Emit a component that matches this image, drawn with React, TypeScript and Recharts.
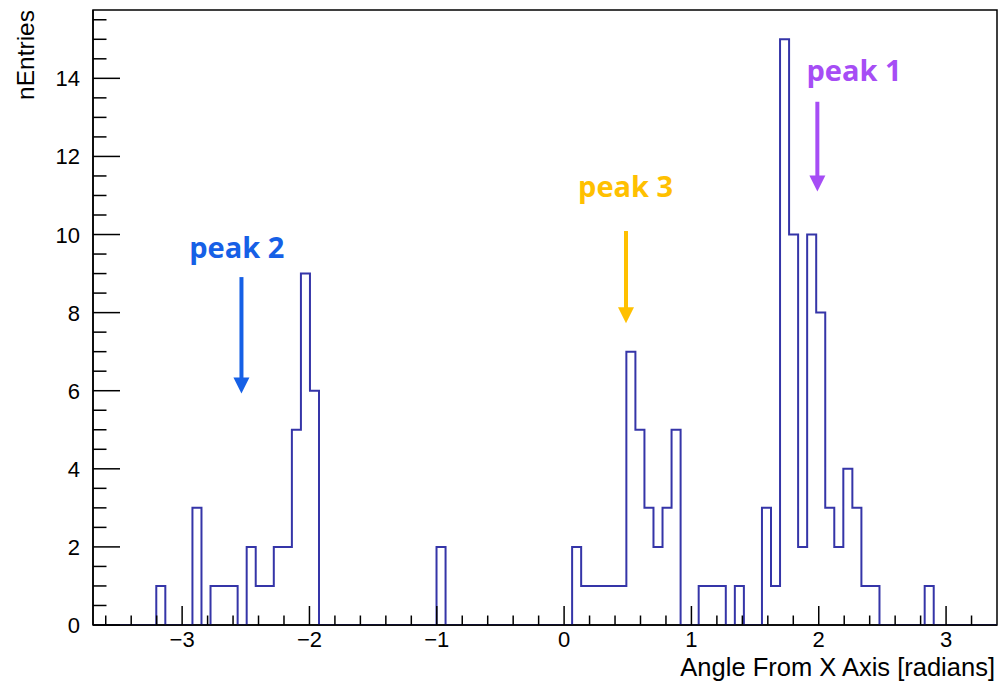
import React from 'react';
import {
  LineChart,
  Line,
  XAxis,
  YAxis,
  ReferenceArea,
  ReferenceLine,
  ReferenceDot,
} from 'recharts';

const X_MIN = -3.7;
const X_MAX = 3.4;
const Y_MAX = 15.75;

// entries per bin: 100 bins between X_MIN and X_MAX
const COUNTS = [
  0, 0, 0, 0, 0, 0, 0, 1, 0, 0,
  0, 3, 0, 1, 1, 1, 0, 2, 1, 1,
  2, 2, 5, 9, 6, 0, 0, 0, 0, 0,
  0, 0, 0, 0, 0, 0, 0, 0, 2, 0,
  0, 0, 0, 0, 0, 0, 0, 0, 0, 0,
  0, 0, 0, 2, 1, 1, 1, 1, 1, 7,
  5, 3, 2, 3, 5, 0, 0, 1, 1, 1,
  0, 1, 0, 0, 3, 1, 15, 10, 2, 10,
  8, 3, 2, 4, 3, 1, 1, 0, 0, 0,
  0, 0, 1, 0, 0, 0, 0, 0, 0, 0,
];

const X_LABELS = [-3, -2, -1, 0, 1, 2, 3];
const Y_LABELS = [0, 2, 4, 6, 8, 10, 12, 14];

const PEAK_NAMES = ['peak 1', 'peak 2', 'peak 3'];
const PEAK_COLORS = ['#a64df5', '#1660e6', '#ffc000'];
const PEAK_TEXT_X = [2.277, -2.571, 0.483];
const PEAK_TEXT_Y = [13.94, 9.39, 10.96];
const ARROW_X = [1.989, -2.534, 0.486];
const ARROW_TOP = [13.4, 8.91, 10.09];
const ARROW_TIP = [11.1, 5.93, 7.73];

// axis tick marks (minor every 0.2 on x, every 0.5 on y)
const X_TICKS = Array.from({ length: 35 }, (_, i) => Math.round((-3.6 + i * 0.2) * 10) / 10);
const Y_TICKS = Array.from({ length: 32 }, (_, i) => i * 0.5);

const BIN_W = (X_MAX - X_MIN) / COUNTS.length;
const steps = COUNTS.map((n, i) => ({ x: X_MIN + i * BIN_W, n }));
steps.push({ x: X_MAX, n: COUNTS[COUNTS.length - 1] });

const FONT = '"Liberation Sans", Arial, sans-serif';

const fmt = (v: number) => (v < 0 ? `\u2212${-v}` : `${v}`);

function XTick(props: any) {
  const { x, y, payload } = props;
  const major = X_LABELS.includes(payload.value);
  return (
    <g>
      <line x1={x} x2={x} y1={y} y2={y - (major ? 19 : 9.5)} stroke="#000" strokeWidth={1.5} />
      {major && (
        <text x={x} y={y + 22} textAnchor="middle" fontFamily={FONT} fontSize={22} fill="#000">
          {fmt(payload.value)}
        </text>
      )}
    </g>
  );
}

function YTick(props: any) {
  const { x, y, payload } = props;
  const major = Y_LABELS.includes(payload.value);
  return (
    <g>
      <line x1={x} x2={x + (major ? 27 : 13.5)} y1={y} y2={y} stroke="#000" strokeWidth={1.5} />
      {major && (
        <text x={x - 13} y={y + 8} textAnchor="end" fontFamily={FONT} fontSize={22} fill="#000">
          {payload.value}
        </text>
      )}
    </g>
  );
}

function Arrow(props: any) {
  const { x1, y1, x2, y2, stroke } = props;
  return (
    <g>
      <line x1={x1} y1={y1} x2={x2} y2={y2 - 14} stroke={stroke} strokeWidth={4} />
      <polygon points={`${x2 - 8},${y2 - 16} ${x2 + 8},${y2 - 16} ${x2},${y2}`} fill={stroke} />
    </g>
  );
}

export default function App() {
  return (
    <div style={{ position: 'absolute', left: 0, top: 0, width: 999, height: 683, background: '#fff' }}>
      <LineChart width={999} height={683} data={steps} margin={{ top: 10, right: 2, left: 33, bottom: 0 }}>
        <XAxis
          type="number"
          dataKey="x"
          domain={[X_MIN, X_MAX]}
          ticks={X_TICKS}
          interval={0}
          allowDataOverflow
          height={58}
          tickSize={0}
          tickMargin={0}
          tickLine={false}
          tick={<XTick />}
          axisLine={{ stroke: '#000', strokeWidth: 1.5 }}
          label={{
            content: (p: any) => (
              <text
                x={p.viewBox.x + p.viewBox.width - 2}
                y={p.viewBox.y + 51}
                textAnchor="end"
                fontFamily={FONT}
                fontSize={25.5}
                fill="#000"
              >
                Angle From X Axis [radians]
              </text>
            ),
          }}
        />
        <YAxis
          type="number"
          domain={[0, Y_MAX]}
          ticks={Y_TICKS}
          interval={0}
          allowDataOverflow
          width={60}
          tickSize={0}
          tickMargin={0}
          tickLine={false}
          tick={<YTick />}
          axisLine={{ stroke: '#000', strokeWidth: 1.5 }}
          label={{
            content: (p: any) => {
              const tx = p.viewBox.x + 1;
              const ty = p.viewBox.y;
              return (
                <text
                  x={tx}
                  y={ty}
                  textAnchor="end"
                  transform={`rotate(-90 ${tx} ${ty})`}
                  fontFamily={FONT}
                  fontSize={24.5}
                  fill="#000"
                >
                  nEntries
                </text>
              );
            },
          }}
        />
        <ReferenceArea
          x1={X_MIN}
          x2={X_MAX}
          y1={0}
          y2={Y_MAX}
          fill="none"
          stroke="#000"
          strokeWidth={1.5}
          ifOverflow="visible"
        />
        <Line
          type="stepAfter"
          dataKey="n"
          stroke="#3535a8"
          strokeWidth={2}
          dot={false}
          isAnimationActive={false}
        />
        {PEAK_NAMES.map((name, i) => (
          <ReferenceLine
            key={`a${i}`}
            segment={[
              { x: ARROW_X[i], y: ARROW_TOP[i] },
              { x: ARROW_X[i], y: ARROW_TIP[i] },
            ]}
            stroke={PEAK_COLORS[i]}
            shape={(p: any) => <Arrow {...p} stroke={PEAK_COLORS[i]} />}
          />
        ))}
        {PEAK_NAMES.map((name, i) => (
          <ReferenceDot
            key={`t${i}`}
            x={PEAK_TEXT_X[i]}
            y={PEAK_TEXT_Y[i]}
            r={0}
            shape={(p: any) => (
              <text
                x={p.cx}
                y={p.cy}
                textAnchor="middle"
                fontFamily='"Open Sans", sans-serif'
                fontWeight={700}
                fontSize={29}
                fill={PEAK_COLORS[i]}
              >
                {name}
              </text>
            )}
          />
        ))}
      </LineChart>
    </div>
  );
}
